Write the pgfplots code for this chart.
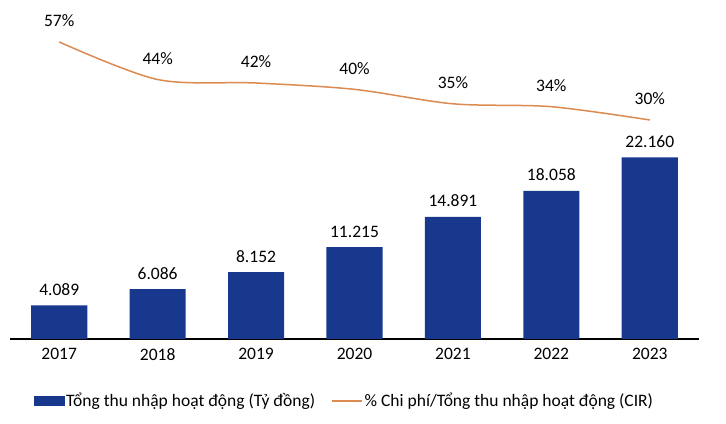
\documentclass[border=0pt]{standalone}
\usepackage{pgfplots}
\pgfplotsset{compat=1.18}
\usepackage{fontspec}
\setmainfont{Carlito}
\definecolor{barblue}{HTML}{17388D}
\definecolor{cirorange}{HTML}{DB8A50}
\newcommand{\chartfont}{\fontsize{17.5bp}{20bp}\selectfont}

\begin{document}
\begin{tikzpicture}
\path[use as bounding box] (0,0) rectangle (726bp,424bp);

% bars: Tong thu nhap hoat dong (ty dong)
\begin{axis}[
  at={(10bp,85bp)}, anchor=south west,
  scale only axis,
  width=689bp, height=319bp,
  xmin=-0.5, xmax=6.5,
  ymin=0, ymax=38900,
  axis y line=none,
  axis x line*=bottom,
  x axis line style={line width=2bp, -},
  xtick={0,...,6},
  xticklabels={2017,2018,2019,2020,2021,2022,2023},
  major tick length=0pt,
  xticklabel style={font=\chartfont, yshift=-6bp},
  ybar, bar width=0.57,
  nodes near coords,
  /pgf/number format/.cd, fixed, precision=0, 1000 sep={.}, assume math mode=true,
  /pgfplots/.cd,
  every node near coord/.append style={font=\chartfont, text=black, anchor=base, inner sep=0pt, yshift=10bp},
]
\addplot[fill=barblue, draw=none] coordinates {
  (0,4089) (1,6086) (2,8152) (3,11215) (4,14891) (5,18058) (6,22160)
};
\end{axis}

% line: % Chi phi / Tong thu nhap hoat dong (CIR)
\begin{axis}[
  at={(10bp,85bp)}, anchor=south west,
  scale only axis,
  width=689bp, height=319bp,
  xmin=-0.5, xmax=6.5,
  ymin=-45.8, ymax=64.6,
  axis lines=none,
  point meta=explicit symbolic,
  nodes near coords={\pgfplotspointmeta\%},
  every node near coord/.append style={font=\chartfont, text=black, anchor=base, inner sep=0pt, yshift=15bp},
  legend columns=-1,
  legend style={at={(0.484,-0.194)}, anchor=center, draw=none, fill=none,
    font=\chartfont, column sep=2bp, inner sep=0pt,
    nodes={inner xsep=0pt, inner ysep=0pt},
    /tikz/every even column/.append style={column sep=16bp}},
  legend cell align=left,
]
\addlegendimage{legend image code/.code={\fill[barblue] (0bp,-4.5bp) rectangle (30bp,4.5bp);}}
\addlegendentry{Tổng thu nhập hoạt động (Tỷ đồng)}
\addplot[cirorange, line width=1.5bp, smooth, mark=none,
  legend image code/.code={\draw[cirorange, line width=1.5bp] (0bp,0bp) -- (30bp,0bp);}]
  coordinates {
  (0,57) [57] (1,44) [44] (2,42.8) [42] (3,40.6) [40] (4,35.6) [35] (5,34.6) [34] (6,30) [30]
};
\addlegendentry{\% Chi phí/Tổng thu nhập hoạt động (CIR)}
\end{axis}
\end{tikzpicture}
\end{document}
